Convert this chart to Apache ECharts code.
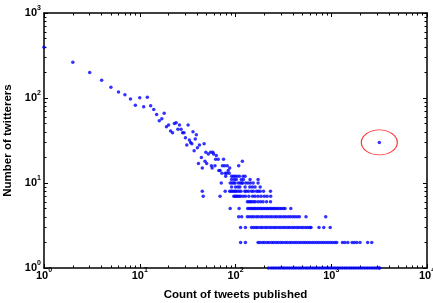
<!DOCTYPE html>
<html>
<head>
<meta charset="utf-8">
<script src="https://cdn.jsdelivr.net/npm/echarts@6/dist/echarts.min.js"></script>
<style>
  html, body { margin: 0; padding: 0; background: #fff; }
  #main { width: 433px; height: 303px; }
</style>
</head>
<body>
<div id="main"></div>
<script>
// tweet count (x) -> number of twitterers with that count (y)
const headCounts = [1, 2, 3, 4, 5, 6, 7, 8, 9, 10, 11, 12, 13, 14, 15, 16, 17, 18, 19, 20,
  21, 22, 23, 24, 25, 26, 27, 28, 29, 30, 31, 32, 33, 34, 35, 36, 37, 38, 39, 40,
  41, 42, 44, 45, 47, 48, 49, 50, 52, 55, 56, 58, 57, 59, 61, 62, 63, 66, 67, 69,
  73, 72, 75, 77, 78, 81, 82, 84, 86, 87, 95, 104, 108, 110, 118, 120];
const headUsers = [395, 263, 199, 162, 134, 118, 109, 97, 82, 101, 79, 102, 81, 73, 64, 54, 57, 66, 46, 48,
  41, 39, 50, 51, 43, 48, 43, 39, 39, 34, 28, 48, 32, 30, 29, 40, 24, 33, 37, 26,
  17, 28, 20, 15, 29, 18, 23, 17, 22, 23, 16, 23, 15, 22, 16, 19, 21, 19, 14, 14,
  16, 13, 19, 16, 13, 13, 16, 14, 13, 15, 12, 12, 16, 12, 18, 12];

// the low rows: tweet counts shared by the same number of twitterers
const countsAt12 = [79, 91, 99, 126];
const countsAt11 = [91, 97, 102, 115, 121, 142, 172];
const countsAt10 = [71, 88, 92, 96, 99, 107, 112, 116, 119, 128, 135, 143, 153, 172];
const countsAt9 = [91, 100, 106, 111, 126, 141, 150, 160, 181];
const countsAt8 = [45, 78, 87, 90, 93, 97, 100, 104, 109, 114, 125, 130, 137, 147, 154, 166, 173, 181, 196, 232];
const countsAt7 = [46, 69, 96, 99, 102, 105, 109, 113, 120, 127, 138, 151, 160, 172, 185, 200, 214, 233];
const countsAt6 = [133, 138, 143, 148, 155, 161, 172, 183, 194, 211, 232];
const countsAt5 = [88, 109, 134, 139, 145, 150, 156, 161, 168, 174, 182, 188, 196, 203, 212, 219, 229, 237,
  247, 256, 267, 277, 290, 302, 316, 329, 378];
const countsAt4 = [108, 116, 133, 140, 148, 155, 165, 173, 184, 193, 205, 216, 229, 241, 256, 269, 285, 300,
  318, 335, 355, 374, 396, 417, 441, 465, 545, 875];
const countsAt3 = [113, 127, 147, 155, 163, 171, 182, 191, 203, 213, 226, 238, 252, 265, 281, 296, 313, 330,
  349, 367, 389, 410, 434, 457, 483, 509, 539, 568, 600, 615, 745, 835, 975];
const countsAt2 = [113, 127, 172, 180, 191, 201, 213, 224, 238, 250, 265, 279, 296, 311, 330, 347, 368, 387,
  410, 432, 457, 482, 510, 537, 568, 599, 634, 668, 707, 745, 788, 831, 879, 927, 980, 1034, 1092, 1140,
  1310, 1388, 1490, 1652, 1744, 1850, 1996, 2400, 2650];
const countsAt1 = [221, 236, 249, 263, 279, 294, 312, 327, 346, 365, 387, 408, 430, 457, 482, 509, 540, 568,
  601, 637, 672, 709, 751, 793, 838, 886, 935, 990, 1044, 1103, 1166, 1232, 1300, 1376, 1452, 1535, 1620,
  1714, 1808, 1912, 2018, 2133, 2251, 2379, 2512, 2655, 2803, 2961, 3120, 3200];

// the circled outlier
const outlierCount = 3177;
const outlierUsers = 30;

const majorTicksX = [1, 10, 100, 1000, 10000];
const majorTicksY = [1, 10, 100, 1000];

function minorTicks(decades) {
  const out = [];
  for (let p = 0; p < decades; p++) {
    for (let k = 2; k <= 9; k++) out.push(k * Math.pow(10, p));
  }
  return out;
}

const points = headCounts.map((c, i) => [c, headUsers[i]]);
const rows = [[12, countsAt12], [11, countsAt11], [10, countsAt10], [9, countsAt9], [8, countsAt8],
  [7, countsAt7], [6, countsAt6], [5, countsAt5], [4, countsAt4], [3, countsAt3], [2, countsAt2], [1, countsAt1]];
rows.forEach(([users, counts]) => {
  counts.forEach(c => points.push([c, users]));
});
points.push([outlierCount, outlierUsers]);

const FONT = 'Liberation Sans';
const labelRich = {
  b: { fontSize: 11, fontWeight: 'bold', fontFamily: FONT, color: '#000', lineHeight: 11, verticalAlign: 'bottom' },
  e: { fontSize: 7, fontWeight: 'bold', fontFamily: FONT, color: '#000', lineHeight: 7, padding: [0, 0, 7, 0], verticalAlign: 'bottom' }
};
const powLabel = v => '{b|10}{e|' + Math.round(Math.log10(v)) + '}';

// one axis per side for major ticks, one more for the shorter minor ticks
function axis(max, position, ticks, len, main) {
  return {
    type: 'log',
    logBase: 10,
    min: 1,
    max: max,
    position: position,
    axisLine: { show: main, lineStyle: { color: '#000', width: 1.5 } },
    axisTick: { show: true, inside: true, length: len, customValues: ticks, lineStyle: { color: '#000', width: 1 } },
    axisLabel: { show: false },
    splitLine: { show: false },
    minorTick: { show: false }
  };
}

const xBottom = axis(10000, 'bottom', majorTicksX, 4, true);
xBottom.axisLabel = { show: true, customValues: majorTicksX, formatter: powLabel, rich: labelRich, margin: 2 };
xBottom.name = 'Count of tweets published';
xBottom.nameLocation = 'middle';
xBottom.nameGap = 21;
xBottom.nameTextStyle = { fontSize: 11.5, fontWeight: 'bold', fontFamily: FONT, color: '#000' };

const yLeft = axis(1000, 'left', majorTicksY, 4, true);
yLeft.axisLabel = { show: true, customValues: majorTicksY, formatter: powLabel, rich: labelRich, margin: 3 };
yLeft.name = 'Number of twitterers';
yLeft.nameLocation = 'middle';
yLeft.nameGap = 27;
yLeft.nameTextStyle = { fontSize: 11.5, fontWeight: 'bold', fontFamily: FONT, color: '#000' };

const chart = echarts.init(document.getElementById('main'), null, { renderer: 'canvas' });
chart.setOption({
  animation: false,
  backgroundColor: '#fff',
  grid: { left: 44, right: 6, top: 13, bottom: 35, containLabel: false, outerBoundsMode: 'none' },
  xAxis: [
    xBottom,
    axis(10000, 'bottom', minorTicks(4), 2.5, false),
    axis(10000, 'top', majorTicksX, 4, true),
    axis(10000, 'top', minorTicks(4), 2.5, false)
  ],
  yAxis: [
    yLeft,
    axis(1000, 'left', minorTicks(3), 2.5, false),
    axis(1000, 'right', majorTicksY, 4, true),
    axis(1000, 'right', minorTicks(3), 2.5, false)
  ],
  series: [
    {
      type: 'scatter',
      data: points,
      symbolSize: 3.5,
      clip: false,
      itemStyle: { color: '#0000ff' }
    },
    {
      type: 'scatter',
      data: [[outlierCount, outlierUsers]],
      symbolSize: [36, 25],
      clip: false,
      silent: true,
      itemStyle: { color: 'rgba(0,0,0,0)', borderColor: '#ff0000', borderWidth: 1 }
    }
  ]
});
</script>
</body>
</html>
